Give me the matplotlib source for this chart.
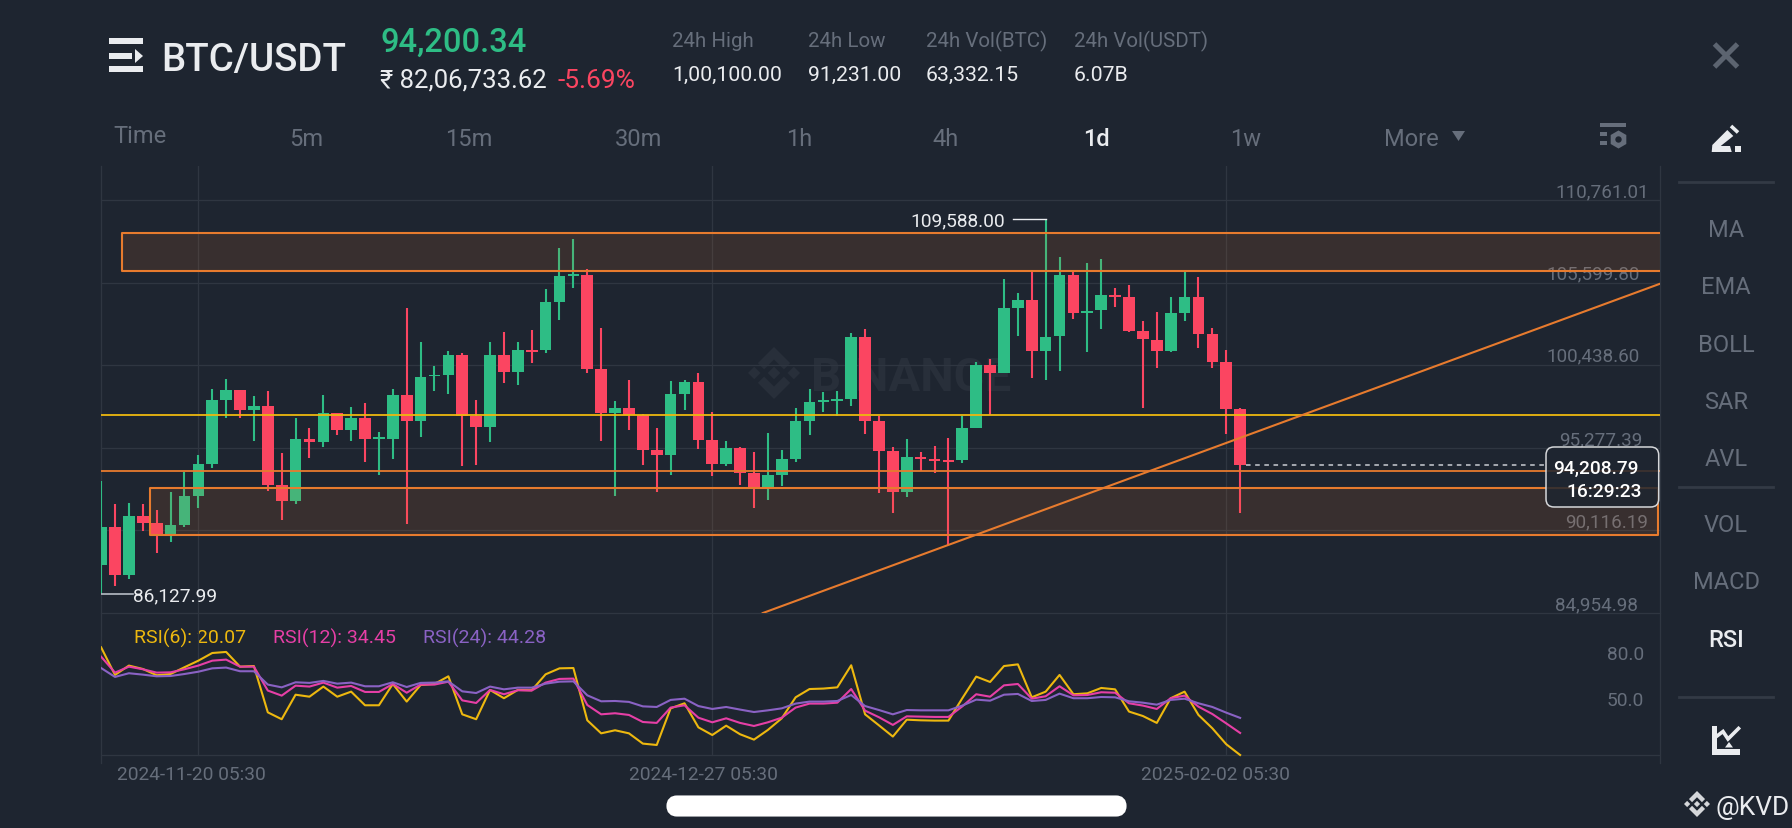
import matplotlib
matplotlib.use("Agg")
import matplotlib.pyplot as plt
from matplotlib.patches import FancyBboxPatch, Polygon, Rectangle

# --- Candle data (BTC/USDT 1d) ---
opens = [87960, 90355, 87314, 91000, 90563, 89897, 90438, 92292, 94270, 98290, 98873, 97644, 97873, 92979,
         91938, 95832, 95645, 97436, 96395, 97165, 95832, 95832, 98561, 96936, 99769, 99810, 101081, 97290,
         96582, 101101, 99998, 101393, 101393, 104434, 106058, 106100, 100185, 97457, 97769, 97353, 95166,
         94853, 98644, 99394, 95791, 94291, 95270, 93729, 92771, 93562, 94562, 96957, 98165, 98227, 98352,
         102205, 96936, 95062, 92542, 94708, 94562, 94520, 94520, 96540, 100477, 99977, 104059, 104538,
         101310, 102247, 106121, 103705, 103892, 104850, 104725, 102601, 102059, 101310, 103705, 104705,
         102414, 100622, 97686]
closes = [90355, 87314, 91000, 90563, 89897, 90438, 92292, 94270, 98290, 98873, 97644, 97873, 92979, 91938,
          95832, 95645, 97436, 96395, 97165, 95832, 95957, 98561, 96936, 99706, 99852, 101081, 97290, 96582,
          101101, 99998, 101393, 101289, 104434, 106037, 106162, 100185, 97457, 97769, 97353, 95166, 94853,
          98644, 99394, 95791, 94291, 95270, 93729, 92771, 93562, 94562, 96957, 98144, 98269, 98331, 102205,
          96936, 95062, 92542, 94708, 94603, 94458, 94395, 96540, 100477, 99977, 104059, 104538, 101310,
          102226, 106121, 103705, 103871, 104850, 104746, 102601, 102080, 101310, 103705, 104705, 102414,
          100622, 97686, 94208.79]
highs = [93229, 91771, 91833, 91750, 91417, 92542, 93750, 94812, 98956, 99560, 98900, 98540, 98831, 94937,
         97165, 96520, 98581, 97450, 97811, 98102, 96270, 98977, 104059, 101872, 100414, 101331, 101206,
         98248, 101872, 102518, 101872, 102622, 105225, 107766, 108328, 106496, 102768, 98206, 99519, 97415,
         96520, 99456, 99539, 99935, 97540, 95707, 95312, 94999, 96207, 95124, 97790, 98956, 98748, 98810,
         102455, 102705, 97248, 95353, 95832, 95020, 95416, 95916, 97290, 100643, 100852, 105829, 104954,
         106350, 109588, 107225, 106350, 106829, 107079, 105267, 105475, 103226, 103767, 104746, 106350,
         105975, 102768, 101414, 97769]
lows = [86127.99, 86668, 87064, 90063, 88709, 89376, 90355, 91500, 94020, 97123, 97123, 95728, 92604, 90792,
        91792, 94624, 95353, 96082, 95686, 94374, 93562, 94583, 90501, 95978, 98831, 98644, 94124, 94229,
        95645, 99310, 99185, 100581, 101226, 103309, 105308, 99977, 95686, 92250, 96374, 94229, 92500, 93562,
        97623, 95187, 93500, 94124, 92979, 91500, 92021, 92875, 94374, 96082, 97498, 97248, 97915, 96165,
        92479, 91188, 92188, 93854, 93708, 89230, 94333, 96499, 97353, 99935, 102247, 99644, 99539, 100102,
        103330, 101247, 102747, 104080, 102497, 97769, 100248, 101290, 103247, 101539, 100248, 96124, 91209]

rsi6 = [90.3, 72.3, 78.4, 76.2, 72.1, 72.9, 77.3, 81.6, 86.6, 87.3, 77.7, 78.1, 47.9, 43.4, 59.4, 58.1, 64.7,
        58.1, 61.4, 52.5, 52.5, 66.4, 54.9, 65.7, 66.4, 71.4, 46.6, 43.4, 62.5, 57.1, 62.5, 62.3, 72.7, 76.6,
        76.8, 42.7, 34.2, 36.2, 34.2, 27.5, 26.6, 50.5, 53.8, 38.1, 33.1, 39.2, 33.6, 30.1, 36.4, 44.0, 57.7,
        63.1, 63.4, 64.2, 78.6, 46.6, 39.4, 32.1, 43.1, 42.7, 42.5, 42.5, 57.1, 71.2, 67.7, 78.1, 79.2, 57.7,
        61.4, 72.3, 59.7, 60.3, 63.8, 62.9, 48.4, 45.5, 41.0, 57.1, 61.4, 46.2, 37.5, 27.1, 20.07]
rsi12 = [84.2, 73.8, 77.7, 76.0, 73.8, 74.0, 76.0, 78.4, 81.6, 82.3, 77.7, 77.7, 62.1, 58.8, 65.3, 64.7, 67.3,
         64.0, 65.1, 61.2, 61.2, 66.4, 60.7, 66.0, 66.0, 67.9, 55.7, 54.0, 62.5, 59.7, 62.3, 62.1, 67.3, 69.7,
         69.9, 52.7, 46.6, 47.3, 46.2, 41.6, 41.0, 51.0, 52.5, 44.4, 41.4, 44.0, 41.0, 39.0, 41.4, 44.4, 51.0,
         53.6, 53.6, 54.2, 63.1, 49.0, 44.7, 39.7, 45.3, 45.1, 44.9, 44.9, 51.8, 59.7, 58.1, 65.5, 66.4, 56.8,
         58.4, 64.9, 59.0, 59.2, 61.0, 60.7, 53.8, 52.3, 50.1, 57.1, 58.8, 51.6, 46.8, 40.7, 34.45]
rsi24 = [76.8, 71.0, 73.4, 72.5, 71.4, 71.6, 72.9, 74.4, 76.6, 77.1, 74.7, 74.7, 66.0, 64.2, 67.5, 67.1, 68.4,
         66.6, 67.3, 64.9, 64.9, 67.5, 64.4, 67.1, 67.3, 68.1, 61.6, 60.5, 64.7, 62.9, 64.0, 64.0, 66.6, 67.9,
         68.1, 59.0, 55.1, 55.3, 54.7, 51.8, 51.4, 56.0, 56.8, 52.0, 50.1, 51.4, 49.7, 48.1, 49.2, 50.5, 53.6,
         54.9, 54.9, 55.3, 59.2, 52.0, 49.4, 46.6, 49.4, 49.2, 49.2, 49.2, 52.3, 56.2, 55.5, 59.4, 59.9, 55.3,
         56.0, 60.1, 57.1, 57.1, 57.9, 57.7, 55.1, 54.2, 52.9, 56.0, 56.8, 53.8, 51.4, 47.7, 44.28]

price_ticks = [110761.01, 105599.80, 100438.60, 95277.39, 90116.19, 84954.98]
rsi_ticks = [80.0, 50.0]
date_idx = [7, 44, 81]
date_labels = ["2024-11-20 05:30", "2024-12-27 05:30", "2025-02-02 05:30"]

# drawn zones and lines on the chart: (left index, right index, low, high)
zone_top = (1.5, 114, 106350, 108724)
zone_low = (3.52, 112.05, 89855, 92750)
yellow_level = 97331
orange_level = 93812
trend_idx = [47.63, 112.2]
trend_price = [84950, 105537]

last_price = 94208.79
high_price = 109588.00
low_price = 86127.99
high_idx = 68
low_idx = 0

stats_head = ["24h High", "24h Low", "24h Vol(BTC)", "24h Vol(USDT)"]
stats_vals = ["1,00,100.00", "91,231.00", "63,332.15", "6.07B"]
tabs = ["5m", "15m", "30m", "1h", "4h", "1d", "1w"]
side_items = ["MA", "EMA", "BOLL", "SAR", "AVL", "VOL", "MACD", "RSI"]

# --- Style ---
BG = "#1E2530"
GRID = "#2F3641"
GREEN = "#2EBD85"
RED = "#FB4561"
ORANGE = "#E77B2E"
YELLOW = "#EDB80F"
PINK = "#E63FA6"
PURPLE = "#8A62C4"
GREY = "#666E7B"
WHITE = "#EAECEF"
FONT = ["Roboto", "DejaVu Sans"]
VA = "center_baseline"

W, H = 1792, 828
plt.rcParams["font.family"] = FONT
# the small extra stops the canvas size rounding down a pixel
fig = plt.figure(figsize=((W + 0.01) / 100, (H + 0.01) / 100), dpi=100, facecolor=BG)


def px_axes(left, top, right, bottom, **kw):
    return fig.add_axes([left / W, 1 - bottom / H, (right - left) / W, (bottom - top) / H], **kw)


# full-figure overlay in pixel units for the app chrome
ui = px_axes(0, 0, W, H, zorder=0)
ui.set_xlim(0, W)
ui.set_ylim(H, 0)
ui.axis("off")


def label(x, y, s, size=13, color=GREY, ha="left", weight="normal"):
    ui.text(x, y, s, fontsize=size, color=color, ha=ha, va=VA, weight=weight)


def binance_logo(cx, cy, r, color):
    d = r * 0.24
    for ox, oy in [(0, 0), (-r * 0.76, 0), (r * 0.76, 0)]:
        ui.add_patch(Polygon([(cx + ox - d, cy + oy), (cx + ox, cy + oy - d), (cx + ox + d, cy + oy),
                              (cx + ox, cy + oy + d)], color=color, lw=0))
    for sign in (-1, 1):
        ui.add_patch(Polygon([(cx - r * 0.62, cy + sign * r * 0.38), (cx, cy + sign * r),
                              (cx + r * 0.62, cy + sign * r * 0.38), (cx + r * 0.38, cy + sign * r * 0.14),
                              (cx, cy + sign * r * 0.52), (cx - r * 0.38, cy + sign * r * 0.14)],
                             color=color, lw=0))


# --- Header ---
for y0, y1, x1 in [(38, 44, 143), (53, 59, 132), (66, 72, 143)]:
    ui.add_patch(Rectangle((109, y0), x1 - 109, y1 - y0, color=WHITE, lw=0))
ui.add_patch(Polygon([(135, 49), (143, 56), (135, 63)], color=WHITE, lw=0))
label(161, 56, "BTC/USDT", size=27.7, color=WHITE, weight="medium")
label(380, 39, "94,200.34", size=23.5, color=GREEN, weight="medium")
label(380, 78, "₹ 82,06,733.62", size=18.5, color=WHITE)
label(557, 78, "-5.69%", size=19, color=RED)
for x, head, val in zip([672, 808, 926, 1074], stats_head, stats_vals):
    label(x, 39, head, size=14.8)
    label(x, 73, val, size=15.3, color=WHITE)

# --- Interval tabs ---
label(113, 134, "Time", size=17)
for cx, t in zip([306, 469, 639, 799, 946, 1096, 1246], tabs):
    active = t == "1d"
    label(cx, 137, t, size=17, color=WHITE if active else GREY, ha="center", weight="medium" if active else "normal")
label(1384, 137, "More", size=17)
ui.add_patch(Polygon([(1452, 131), (1465, 131), (1458.5, 141)], color=GREY, lw=0))
ui.add_patch(Rectangle((1600, 122.7), 25.7, 4, color=GREY, lw=0))
for y0 in (131.7, 140.7):
    ui.add_patch(Rectangle((1600, y0), 7, 4, color=GREY, lw=0))
ui.plot([1617.7], [139], marker="h", ms=13, mfc=GREY, mec=GREY, mew=0)
ui.plot([1617.7], [139], marker="o", ms=4.6, mfc=BG, mec=BG, mew=0)

# --- Right side panel ---
ui.plot([1714.5, 1737.5], [44, 67], color="#5C6470", lw=3.6, solid_capstyle="butt")
ui.plot([1737.5, 1714.5], [44, 67], color="#5C6470", lw=3.6, solid_capstyle="butt")
ui.add_patch(Polygon([(1711.7, 152), (1712.3, 145), (1727.3, 130), (1733.3, 136), (1720.7, 146), (1730, 146), (1731.7, 152)],
                     color=WHITE, lw=0))
ui.plot([1731, 1738], [126, 132.5], color=WHITE, lw=2.6, solid_capstyle="butt")
ui.add_patch(Rectangle((1735, 146), 5.7, 5.7, color=WHITE, lw=0))
for y in (181.7, 487, 697):
    ui.plot([1679, 1773], [y, y], color="#333A45", lw=2)
for y, s in zip([228, 285, 343, 400, 457, 523, 580, 638], side_items):
    active = s == "RSI"
    label(1726, y, s, size=17, color=WHITE if active else GREY, ha="center", weight="medium" if active else "normal")
ui.add_patch(Rectangle((1712, 726), 5, 29, color=WHITE, lw=0))
ui.add_patch(Rectangle((1712, 749.5), 28, 5.5, color=WHITE, lw=0))
ui.plot([1717, 1723, 1728, 1738.5], [736, 731.5, 739, 728.5], color=WHITE, lw=2.6, solid_joinstyle="miter")
ui.add_patch(Polygon([(1725, 747.5), (1729, 742), (1733, 747.5)], color=WHITE, lw=0))

# --- Footer ---
binance_logo(1697, 804, 13, "#D5D7DA")
label(1715, 805, "@KVD", size=19, color=WHITE)
ui.add_patch(FancyBboxPatch((672, 801), 449, 10, boxstyle="round,pad=0,rounding_size=5",
                            mutation_aspect=1, fc="white", ec="white", lw=8))

# --- Watermark, under the candles ---
binance_logo(774, 373, 26, "#282F3A")
ui.text(811, 373, "BINANCE", fontsize=34, color="#282F3A", weight="bold", ha="left", va=VA)

# --- Price pane ---
ax = px_axes(100.7, 166, 1659.6, 613, zorder=1)
ax.patch.set_alpha(0)
ax.set_xlim(-0.03, 112.2)
ax.set_ylim(84954.98, 112910)
ax.set_xticks([])
ax.set_yticks([])
for side in ("top", "bottom"):
    ax.spines[side].set_visible(False)
for side in ("left", "right"):
    ax.spines[side].set_color(GRID)
    ax.spines[side].set_linewidth(0.9)

for p in price_ticks:
    ax.axhline(p, color=GRID, lw=0.9, zorder=1, clip_on=False)
for i in date_idx:
    ax.axvline(i, color=GRID, lw=0.9, zorder=1)

xs = list(range(len(opens)))
colors = [GREEN if c >= o else RED for o, c in zip(opens, closes)]
ax.vlines(xs, lows, highs, colors=colors, lw=1.5, zorder=3)
ax.bar(xs, [abs(c - o) for o, c in zip(opens, closes)], bottom=[min(o, c) for o, c in zip(opens, closes)],
       width=0.84, color=colors, lw=0, zorder=3)

# orange zones sit on top of the candles
for x0, x1, p0, p1 in (zone_top, zone_low):
    ax.add_patch(Rectangle((x0, p0), x1 - x0, p1 - p0, fc=(0.91, 0.48, 0.18, 0.13), ec=ORANGE, lw=1.5,
                           joinstyle="round", zorder=4))
ax.axhline(yellow_level, color=YELLOW, lw=1.3, zorder=4)
ax.axhline(orange_level, color=ORANGE, lw=1.3, zorder=4)
ax.plot(trend_idx, trend_price, color=ORANGE, lw=1.5, zorder=4)

# price labels, offset from the right edge of the pane
for p, dx, dy in zip(price_ticks, [-10.6, -19.6, -19.6, -17.6, -11.6, -21.6], [10, 11, 10.7, 10, 10, 10]):
    ax.annotate(f"{p:,.2f}", xy=(1, p), xycoords=("axes fraction", "data"), xytext=(dx, dy),
                textcoords="offset pixels", ha="right", va=VA, fontsize=13.6, color=GREY, zorder=2)

# high / low callouts
ax.plot([high_idx - 2.35, high_idx], [high_price, high_price], color=WHITE, lw=1, zorder=5)
ax.text(high_idx - 2.9, high_price, f"{high_price:,.2f}", color=WHITE, fontsize=13.8, ha="right", va=VA, zorder=5)
ax.plot([low_idx, low_idx + 2.3], [low_price, low_price], color="#B7BDC6", lw=1.2, zorder=5)
ax.text(low_idx + 2.33, low_price, f"{low_price:,.2f}", color=WHITE, fontsize=13.8, ha="left", va=VA, zorder=5)

# last price marker
ax.plot([len(opens) - 0.6, 104.1], [last_price, last_price], color="#C9CDD3", lw=1.1, ls=(0, (3, 3)), zorder=5)

# --- RSI pane ---
rx = px_axes(100.7, 613, 1659.6, 763, zorder=1)
rx.patch.set_alpha(0)
rx.set_xlim(-0.03, 112.2)
rx.set_ylim(14.85, 112.7)
rx.set_xticks([])
rx.set_yticks([])
for side in ("top", "bottom"):
    rx.spines[side].set_visible(False)
for side in ("left", "right"):
    rx.spines[side].set_color(GRID)
    rx.spines[side].set_linewidth(0.9)

bottom_rsi = 20.07
rx.plot([-0.03, 112.2], [bottom_rsi, bottom_rsi], color=GRID, lw=0.9, zorder=1)
for i in date_idx:
    rx.plot([i, i], [bottom_rsi, 112.7], color=GRID, lw=0.9, zorder=1)
rx.plot(xs, rsi6, color=YELLOW, lw=1.5, zorder=3)
rx.plot(xs, rsi12, color=PINK, lw=1.5, zorder=3)
rx.plot(xs, rsi24, color=PURPLE, lw=1.5, zorder=3)

for val, dy in zip(rsi_ticks, [10, 10]):
    rx.annotate(f"{val:.1f}", xy=(1, val), xycoords=("axes fraction", "data"), xytext=(-15.6, dy),
                textcoords="offset pixels", ha="right", va=VA, fontsize=13.8, color=GREY)
for i, s, dx in zip(date_idx, date_labels, [-7, -8.5, -11]):
    rx.annotate(s, xy=(i, 0), xycoords=("data", "axes fraction"), xytext=(dx, -9.5), textcoords="offset pixels",
                ha="center", va=VA, fontsize=13.8, color=GREY, annotation_clip=False)

for x, s, c in zip([134, 273, 422.5], [f"RSI(6): {rsi6[-1]:.2f}", f"RSI(12): {rsi12[-1]:.2f}", f"RSI(24): {rsi24[-1]:.2f}"],
                   [YELLOW, PINK, PURPLE]):
    ui.text(x, 636.7, s, fontsize=14, color=c, va=VA, ha="left", zorder=5)

# --- Countdown box goes over both panes ---
top = px_axes(0, 0, W, H, zorder=2)
top.set_xlim(0, W)
top.set_ylim(H, 0)
top.axis("off")
top.add_patch(FancyBboxPatch((1552, 453), 100.7, 48, boxstyle="round,pad=6,rounding_size=8",
                             fc=(0.118, 0.145, 0.188, 0.85), ec="#D5D7DA", lw=1.1))
top.text(1639, 467, f"{last_price:,.2f}", fontsize=13.8, color="white", ha="right", va=VA, weight="medium")
top.text(1642, 490, "16:29:23", fontsize=13.8, color="white", ha="right", va=VA, weight="medium")

fig.savefig("out.png", dpi=100, facecolor=BG)
